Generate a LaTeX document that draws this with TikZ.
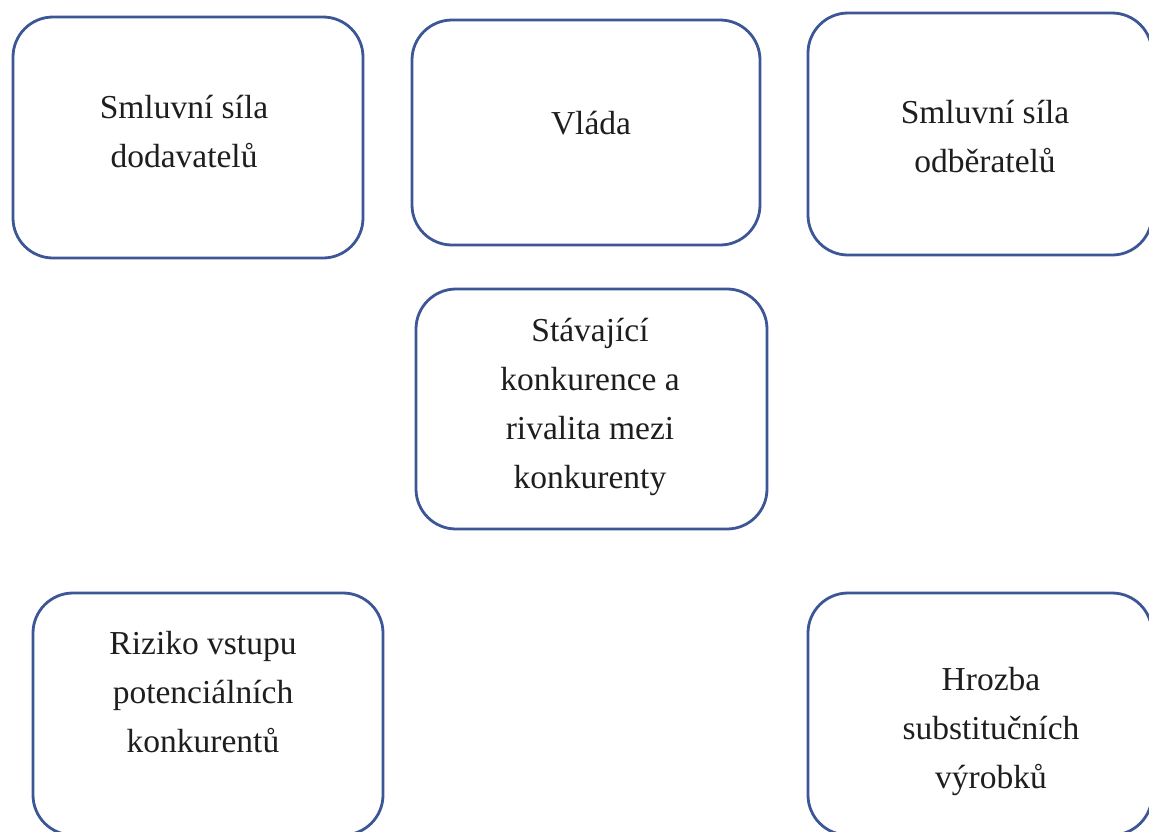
\documentclass[tikz,border=0pt]{standalone}
\usepackage{fontspec}
\setmainfont{Liberation Serif}
\definecolor{boxblue}{RGB}{60,86,150}
\definecolor{txt}{RGB}{30,30,30}
\tikzset{
  forcebox/.style={draw=boxblue, line width=2.8pt, rounded corners=40pt, fill=white, inner sep=0pt},
  forcetext/.style={align=center, text=txt, inner sep=0pt, font=\fontsize{33.5}{49}\selectfont}
}
\begin{document}
\begin{tikzpicture}[x=1pt,y=-1pt]
\useasboundingbox[fill=white] (0,0) rectangle (1149,831);
% boxes
\node[forcebox, minimum width=350pt, minimum height=241pt] (bA) at (188,137.5) {};
\node[forcebox, minimum width=348pt, minimum height=225pt] (bB) at (586,132.5) {};
\node[forcebox, minimum width=344pt, minimum height=242pt] (bC) at (980,134) {};
\node[forcebox, minimum width=351pt, minimum height=240pt] (bD) at (591.5,409) {};
\node[forcebox, minimum width=350pt, minimum height=242pt] (bE) at (208,714) {};
\node[forcebox, minimum width=344pt, minimum height=242pt] (bF) at (980,714) {};
% texts
\node[forcetext] (tA) at (184,132) {Smluvní síla\\dodavatelů};
\node[forcetext] (tB) at (591,123) {Vláda};
\node[forcetext] (tC) at (985,137) {Smluvní síla\\odběratelů};
\node[forcetext] (tD) at (590,407) {Stávající\\konkurence a\\rivalita mezi\\konkurenty};
\node[forcetext] (tE) at (203,692) {Riziko vstupu\\potenciálních\\konkurentů};
\node[forcetext] (tF) at (991,731) {Hrozba\\substitučních\\výrobků};
\end{tikzpicture}
\end{document}
